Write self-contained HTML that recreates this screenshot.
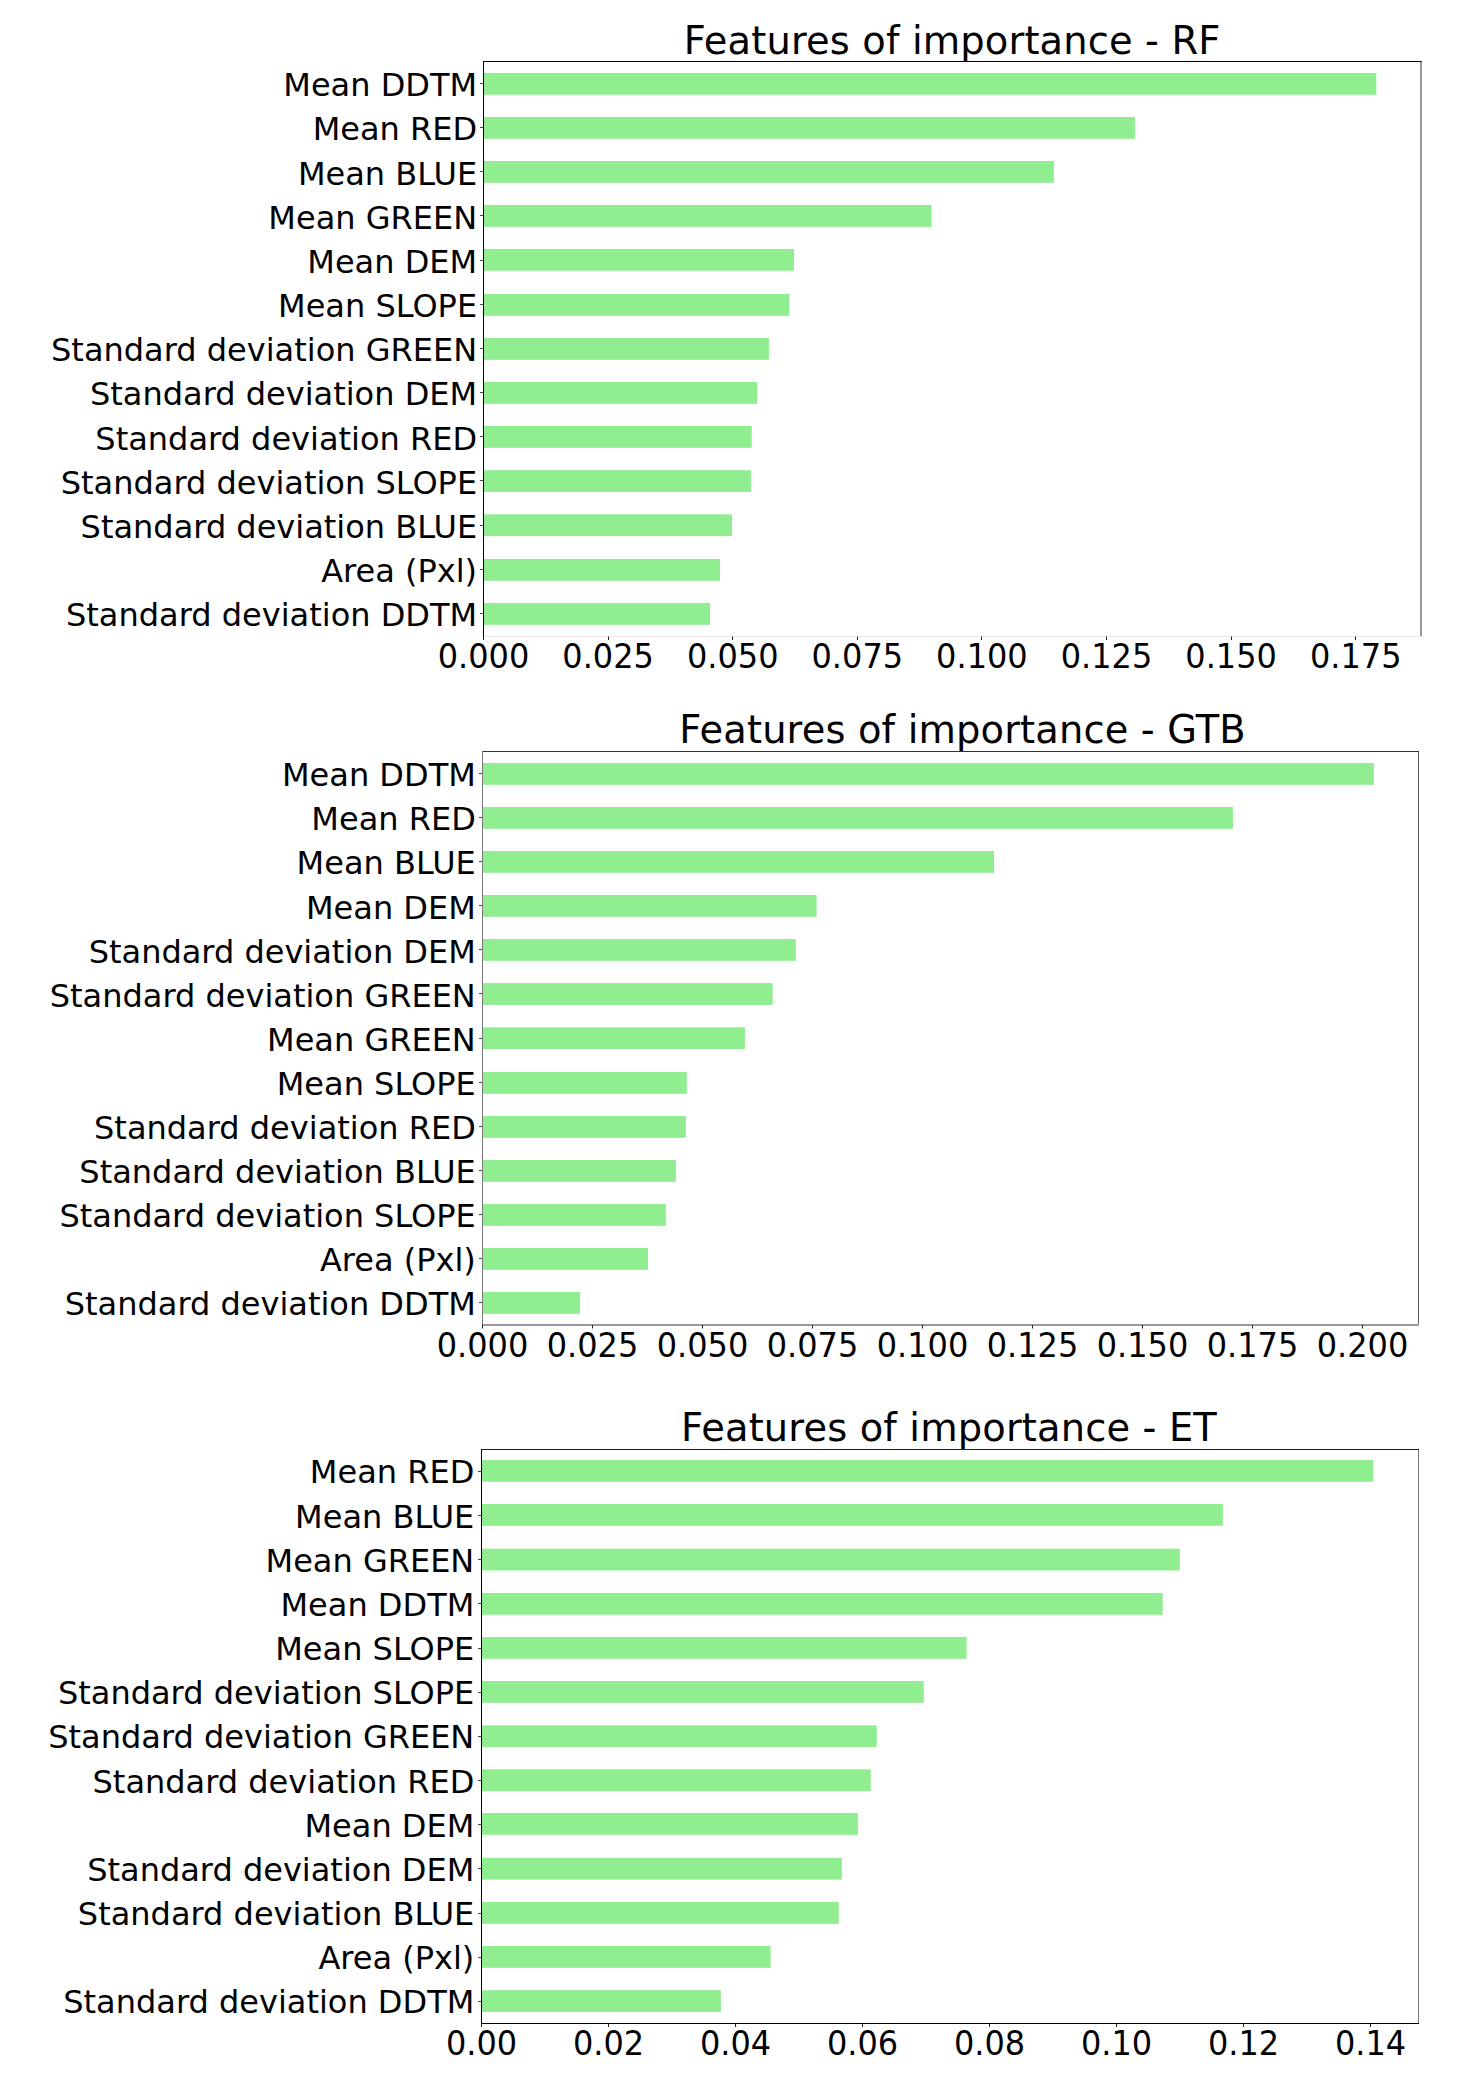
<!DOCTYPE html>
<html lang="en"><head><meta charset="utf-8"><title>Features of importance</title>
<style>
html,body{margin:0;padding:0;background:#fff;}
body{width:1475px;height:2086px;overflow:hidden;}
svg{display:block;}
text{font-family:"DejaVu Sans","Liberation Sans",sans-serif;fill:#000;}
.t{font-size:38.4px;text-anchor:middle;letter-spacing:0.15px;}
.y{font-size:32px;text-anchor:end;}
.x{font-size:32px;text-anchor:middle;}
.b{fill:#90ee90;}
</style></head><body>
<svg width="1475" height="2086" viewBox="0 0 1475 2086">
<rect width="1475" height="2086" fill="#fff"/>
<g>
<rect class="b" x="483.5" y="73.00" width="892.8" height="21.8"/>
<rect class="b" x="483.5" y="117.00" width="651.4" height="21.8"/>
<rect class="b" x="483.5" y="161.00" width="570.4" height="21.8"/>
<rect class="b" x="483.5" y="205.00" width="448.1" height="21.8"/>
<rect class="b" x="483.5" y="249.00" width="310.5" height="21.8"/>
<rect class="b" x="483.5" y="294.00" width="306.0" height="21.8"/>
<rect class="b" x="483.5" y="338.00" width="285.4" height="21.8"/>
<rect class="b" x="483.5" y="382.00" width="273.5" height="21.8"/>
<rect class="b" x="483.5" y="426.00" width="268.2" height="21.8"/>
<rect class="b" x="483.5" y="470.20" width="267.4" height="21.8"/>
<rect class="b" x="483.5" y="514.30" width="248.5" height="21.8"/>
<rect class="b" x="483.5" y="559.00" width="236.5" height="21.8"/>
<rect class="b" x="483.5" y="603.00" width="226.5" height="21.8"/>
<rect x="1420" y="61" width="2" height="575.5" fill="#999"/>
<rect x="483" y="61" width="938.5" height="1" fill="#000"/>
<rect x="483" y="636" width="938.5" height="1" fill="#e8e8e8"/>
<rect x="483" y="61" width="1" height="578" fill="#000"/>
<rect x="480.0" y="83" width="3" height="1" fill="#444"/>
<text class="y" x="477.1" y="96.3">Mean DDTM</text>
<rect x="480.0" y="127" width="3" height="1" fill="#444"/>
<text class="y" x="477.1" y="140.4">Mean RED</text>
<rect x="480.0" y="171" width="3" height="1" fill="#444"/>
<text class="y" x="477.1" y="184.6">Mean BLUE</text>
<rect x="480.0" y="215" width="3" height="1" fill="#444"/>
<text class="y" x="477.1" y="228.8">Mean GREEN</text>
<rect x="480.0" y="260" width="3" height="1" fill="#444"/>
<text class="y" x="477.1" y="272.9">Mean DEM</text>
<rect x="480.0" y="304" width="3" height="1" fill="#444"/>
<text class="y" x="477.1" y="317.1">Mean SLOPE</text>
<rect x="480.0" y="348" width="3" height="1" fill="#444"/>
<text class="y" x="477.1" y="361.2">Standard deviation GREEN</text>
<rect x="480.0" y="392" width="3" height="1" fill="#444"/>
<text class="y" x="477.1" y="405.4">Standard deviation DEM</text>
<rect x="480.0" y="436" width="3" height="1" fill="#444"/>
<text class="y" x="477.1" y="449.5">Standard deviation RED</text>
<rect x="480.0" y="480" width="3" height="1" fill="#444"/>
<text class="y" x="477.1" y="493.7">Standard deviation SLOPE</text>
<rect x="480.0" y="525" width="3" height="1" fill="#444"/>
<text class="y" x="477.1" y="537.9">Standard deviation BLUE</text>
<rect x="480.0" y="569" width="3" height="1" fill="#444"/>
<text class="y" x="477.1" y="582.0">Area (Pxl)</text>
<rect x="480.0" y="613" width="3" height="1" fill="#444"/>
<text class="y" x="477.1" y="626.2">Standard deviation DDTM</text>
<rect x="483" y="636.5" width="1" height="3.5" fill="#222"/>
<text class="x" transform="translate(483.5,667.7) scale(1,1.025)">0.000</text>
<rect x="608" y="636.5" width="1" height="3.5" fill="#222"/>
<text class="x" transform="translate(608.1,667.7) scale(1,1.025)">0.025</text>
<rect x="732" y="636.5" width="1" height="3.5" fill="#222"/>
<text class="x" transform="translate(732.7,667.7) scale(1,1.025)">0.050</text>
<rect x="857" y="636.5" width="1" height="3.5" fill="#222"/>
<text class="x" transform="translate(857.3,667.7) scale(1,1.025)">0.075</text>
<rect x="981" y="636.5" width="1" height="3.5" fill="#222"/>
<text class="x" transform="translate(981.9,667.7) scale(1,1.025)">0.100</text>
<rect x="1106" y="636.5" width="1" height="3.5" fill="#222"/>
<text class="x" transform="translate(1106.5,667.7) scale(1,1.025)">0.125</text>
<rect x="1231" y="636.5" width="1" height="3.5" fill="#222"/>
<text class="x" transform="translate(1231.1,667.7) scale(1,1.025)">0.150</text>
<rect x="1355" y="636.5" width="1" height="3.5" fill="#222"/>
<text class="x" transform="translate(1355.7,667.7) scale(1,1.025)">0.175</text>
<text class="t" x="952.1" y="54.0">Features of importance - RF</text>
</g>
<g>
<rect class="b" x="482.5" y="763.00" width="891.4" height="21.8"/>
<rect class="b" x="482.5" y="807.00" width="750.4" height="21.8"/>
<rect class="b" x="482.5" y="851.00" width="511.5" height="21.8"/>
<rect class="b" x="482.5" y="895.00" width="334.1" height="21.8"/>
<rect class="b" x="482.5" y="939.00" width="313.3" height="21.8"/>
<rect class="b" x="482.5" y="983.10" width="290.2" height="21.8"/>
<rect class="b" x="482.5" y="1027.30" width="262.4" height="21.8"/>
<rect class="b" x="482.5" y="1072.00" width="204.3" height="21.8"/>
<rect class="b" x="482.5" y="1116.00" width="203.4" height="21.8"/>
<rect class="b" x="482.5" y="1160.00" width="193.4" height="21.8"/>
<rect class="b" x="482.5" y="1204.00" width="183.4" height="21.8"/>
<rect class="b" x="482.5" y="1248.00" width="165.6" height="21.8"/>
<rect class="b" x="482.5" y="1292.00" width="97.5" height="21.8"/>
<rect x="1418" y="751" width="1" height="574.0" fill="#606060"/>
<rect x="482" y="751" width="937.0" height="1" fill="#333"/>
<rect x="482" y="1324" width="937.0" height="2" fill="#999"/>
<rect x="482" y="751" width="1" height="577" fill="#777"/>
<rect x="479.0" y="773" width="3" height="1" fill="#444"/>
<text class="y" x="475.8" y="786.3">Mean DDTM</text>
<rect x="479.0" y="817" width="3" height="1" fill="#444"/>
<text class="y" x="475.8" y="830.4">Mean RED</text>
<rect x="479.0" y="861" width="3" height="1" fill="#444"/>
<text class="y" x="475.8" y="874.4">Mean BLUE</text>
<rect x="479.0" y="905" width="3" height="1" fill="#444"/>
<text class="y" x="475.8" y="918.5">Mean DEM</text>
<rect x="479.0" y="949" width="3" height="1" fill="#444"/>
<text class="y" x="475.8" y="962.6">Standard deviation DEM</text>
<rect x="479.0" y="993" width="3" height="1" fill="#444"/>
<text class="y" x="475.8" y="1006.7">Standard deviation GREEN</text>
<rect x="479.0" y="1038" width="3" height="1" fill="#444"/>
<text class="y" x="475.8" y="1050.8">Mean GREEN</text>
<rect x="479.0" y="1082" width="3" height="1" fill="#444"/>
<text class="y" x="475.8" y="1094.9">Mean SLOPE</text>
<rect x="479.0" y="1126" width="3" height="1" fill="#444"/>
<text class="y" x="475.8" y="1139.0">Standard deviation RED</text>
<rect x="479.0" y="1170" width="3" height="1" fill="#444"/>
<text class="y" x="475.8" y="1183.1">Standard deviation BLUE</text>
<rect x="479.0" y="1214" width="3" height="1" fill="#444"/>
<text class="y" x="475.8" y="1227.2">Standard deviation SLOPE</text>
<rect x="479.0" y="1258" width="3" height="1" fill="#444"/>
<text class="y" x="475.8" y="1271.3">Area (Pxl)</text>
<rect x="479.0" y="1302" width="3" height="1" fill="#444"/>
<text class="y" x="475.8" y="1315.4">Standard deviation DDTM</text>
<rect x="482" y="1325.0" width="1" height="3.5" fill="#222"/>
<text class="x" transform="translate(482.5,1356.5) scale(1,1.025)">0.000</text>
<rect x="592" y="1325.0" width="1" height="3.5" fill="#222"/>
<text class="x" transform="translate(592.5,1356.5) scale(1,1.025)">0.025</text>
<rect x="702" y="1325.0" width="1" height="3.5" fill="#222"/>
<text class="x" transform="translate(702.5,1356.5) scale(1,1.025)">0.050</text>
<rect x="812" y="1325.0" width="1" height="3.5" fill="#222"/>
<text class="x" transform="translate(812.5,1356.5) scale(1,1.025)">0.075</text>
<rect x="922" y="1325.0" width="1" height="3.5" fill="#222"/>
<text class="x" transform="translate(922.5,1356.5) scale(1,1.025)">0.100</text>
<rect x="1032" y="1325.0" width="1" height="3.5" fill="#222"/>
<text class="x" transform="translate(1032.5,1356.5) scale(1,1.025)">0.125</text>
<rect x="1142" y="1325.0" width="1" height="3.5" fill="#222"/>
<text class="x" transform="translate(1142.5,1356.5) scale(1,1.025)">0.150</text>
<rect x="1252" y="1325.0" width="1" height="3.5" fill="#222"/>
<text class="x" transform="translate(1252.5,1356.5) scale(1,1.025)">0.175</text>
<rect x="1362" y="1325.0" width="1" height="3.5" fill="#222"/>
<text class="x" transform="translate(1362.5,1356.5) scale(1,1.025)">0.200</text>
<text class="t" x="962.6" y="743.4">Features of importance - GTB</text>
</g>
<g>
<rect class="b" x="481.5" y="1460.00" width="891.8" height="21.8"/>
<rect class="b" x="481.5" y="1504.00" width="741.4" height="21.8"/>
<rect class="b" x="481.5" y="1548.70" width="698.3" height="21.8"/>
<rect class="b" x="481.5" y="1593.00" width="681.2" height="21.8"/>
<rect class="b" x="481.5" y="1637.00" width="485.1" height="21.8"/>
<rect class="b" x="481.5" y="1681.00" width="442.3" height="21.8"/>
<rect class="b" x="481.5" y="1725.30" width="395.3" height="21.8"/>
<rect class="b" x="481.5" y="1769.30" width="389.2" height="21.8"/>
<rect class="b" x="481.5" y="1813.00" width="376.4" height="21.8"/>
<rect class="b" x="481.5" y="1857.80" width="360.3" height="21.8"/>
<rect class="b" x="481.5" y="1902.00" width="357.2" height="21.8"/>
<rect class="b" x="481.5" y="1946.00" width="289.1" height="21.8"/>
<rect class="b" x="481.5" y="1990.20" width="239.4" height="21.8"/>
<rect x="1418" y="1449" width="1" height="574.5" fill="#777"/>
<rect x="481" y="1449" width="938.0" height="1" fill="#222"/>
<rect x="481" y="2023" width="938.0" height="1" fill="#000"/>
<rect x="481" y="1449" width="1" height="577" fill="#000"/>
<rect x="478.0" y="1471" width="3" height="1" fill="#444"/>
<text class="y" x="474.3" y="1483.4">Mean RED</text>
<rect x="478.0" y="1515" width="3" height="1" fill="#444"/>
<text class="y" x="474.3" y="1527.6">Mean BLUE</text>
<rect x="478.0" y="1559" width="3" height="1" fill="#444"/>
<text class="y" x="474.3" y="1571.7">Mean GREEN</text>
<rect x="478.0" y="1603" width="3" height="1" fill="#444"/>
<text class="y" x="474.3" y="1615.9">Mean DDTM</text>
<rect x="478.0" y="1648" width="3" height="1" fill="#444"/>
<text class="y" x="474.3" y="1660.0">Mean SLOPE</text>
<rect x="478.0" y="1692" width="3" height="1" fill="#444"/>
<text class="y" x="474.3" y="1704.2">Standard deviation SLOPE</text>
<rect x="478.0" y="1736" width="3" height="1" fill="#444"/>
<text class="y" x="474.3" y="1748.4">Standard deviation GREEN</text>
<rect x="478.0" y="1780" width="3" height="1" fill="#444"/>
<text class="y" x="474.3" y="1792.5">Standard deviation RED</text>
<rect x="478.0" y="1824" width="3" height="1" fill="#444"/>
<text class="y" x="474.3" y="1836.7">Mean DEM</text>
<rect x="478.0" y="1868" width="3" height="1" fill="#444"/>
<text class="y" x="474.3" y="1880.8">Standard deviation DEM</text>
<rect x="478.0" y="1913" width="3" height="1" fill="#444"/>
<text class="y" x="474.3" y="1925.0">Standard deviation BLUE</text>
<rect x="478.0" y="1957" width="3" height="1" fill="#444"/>
<text class="y" x="474.3" y="1969.2">Area (Pxl)</text>
<rect x="478.0" y="2001" width="3" height="1" fill="#444"/>
<text class="y" x="474.3" y="2013.3">Standard deviation DDTM</text>
<rect x="481" y="2023.5" width="1" height="3.5" fill="#222"/>
<text class="x" transform="translate(481.5,2054.8) scale(1,1.025)">0.00</text>
<rect x="608" y="2023.5" width="1" height="3.5" fill="#222"/>
<text class="x" transform="translate(608.5,2054.8) scale(1,1.025)">0.02</text>
<rect x="735" y="2023.5" width="1" height="3.5" fill="#222"/>
<text class="x" transform="translate(735.5,2054.8) scale(1,1.025)">0.04</text>
<rect x="862" y="2023.5" width="1" height="3.5" fill="#222"/>
<text class="x" transform="translate(862.5,2054.8) scale(1,1.025)">0.06</text>
<rect x="989" y="2023.5" width="1" height="3.5" fill="#222"/>
<text class="x" transform="translate(989.5,2054.8) scale(1,1.025)">0.08</text>
<rect x="1116" y="2023.5" width="1" height="3.5" fill="#222"/>
<text class="x" transform="translate(1116.5,2054.8) scale(1,1.025)">0.10</text>
<rect x="1243" y="2023.5" width="1" height="3.5" fill="#222"/>
<text class="x" transform="translate(1243.5,2054.8) scale(1,1.025)">0.12</text>
<rect x="1370" y="2023.5" width="1" height="3.5" fill="#222"/>
<text class="x" transform="translate(1370.5,2054.8) scale(1,1.025)">0.14</text>
<text class="t" x="949.0" y="1441.0">Features of importance - ET</text>
</g>
</svg></body></html>
